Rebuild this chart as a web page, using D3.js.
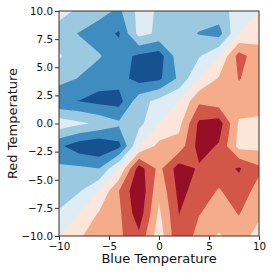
<!DOCTYPE html>
<html>
<head>
<meta charset="utf-8">
<script src="https://cdn.jsdelivr.net/npm/d3@7"></script>
<style>
  body { margin: 0; background: #fff; }
  svg { display: block; font-family: "DejaVu Sans", sans-serif; }
</style>
</head>
<body>
<svg id="chart" width="273" height="273"></svg>
<script>
// Grid of samples (x left to right, y top to bottom)
const xGrid = [-10, -8, -6, -4, -2, 0, 2, 4, 6, 8, 10];
const yGrid = [10, 8, 6, 4, 2, 0, -2, -4, -6, -8, -10];

// Values, one row per y (top row is y = 10)
const temps = [
  [-0.6, -1.2, -1.6, -2.2, -0.7, -1.1, -1.4, -1.5, -1.4, -0.6, 0],
  [-1.5, -2.05, -2.6, -3.1, -0.65, -1.2, -1.6, -2.05, -2.4, 0, 0.6],
  [-0.9, -1.5, -1.9, -2.6, -3.2, -3.5, -1.4, -1.1, 0, 2.4, 1.4],
  [-1.6, -2.05, -2.6, -2.6, -3.4, -3.2, -1.8, 0, 1.1, 2.05, 1.5],
  [-2.9, -3.02, -3.3, -3.4, -1.4, -0.7, 0, 1.8, 1.4, 1.6, 1.4],
  [-0.4, -0.8, -1.2, -1.8, -1.3, 0, 0.7, 3.2, 3.5, 0.85, 0.8],
  [-2.8, -3.6, -3.9, -3.3, 0, 1.3, 1.4, 3.4, 2.9, 0.65, 0.7],
  [-1.8, -1.8, -2.0, 0, 3.5, 1.7, 3.5, 2.88, 2.6, 3.1, 2.2],
  [-1.4, -1.1, 0, 2.0, 3.9, 1.2, 3.3, 2.6, 1.9, 2.6, 1.6],
  [-0.9, 0, 1.1, 1.8, 3.6, 0.8, 3.02, 2.05, 1.5, 2.05, 1.2],
  [0, 0.9, 1.4, 1.8, 2.8, 0.4, 2.9, 1.6, 0.9, 1.5, 0.6]
];

// Contour levels and the colour of each band between them
const levels = [-4, -3, -2, -1, 0, 1, 2, 3, 4];
const bandColors = ["#165290", "#3f8dc0", "#9ac9e0", "#dfecf3",
                    "#fbe6d9", "#f5ac8b", "#d25749", "#960f26"];

const xTicks = [-10, -5, 0, 5, 10];
const yTicks = [-10, -7.5, -5, -2.5, 0, 2.5, 5, 7.5, 10];

const margin = { top: 11, right: 14, bottom: 37, left: 59 };
const width = 200;
const height = 225;

const svg = d3.select("#chart");
const g = svg.append("g")
    .attr("transform", `translate(${margin.left},${margin.top})`);

const x = d3.scaleLinear().domain([-10, 10]).range([0, width]);
const y = d3.scaleLinear().domain([-10, 10]).range([height, 0]);

// d3.contours puts sample i at i + 0.5 in grid units
const nx = xGrid.length, ny = yGrid.length;
const gx = d3.scaleLinear().domain([0.5, nx - 0.5]).range([xGrid[0], xGrid[nx - 1]]);
const gy = d3.scaleLinear().domain([0.5, ny - 0.5]).range([yGrid[0], yGrid[ny - 1]]);
const path = d3.geoPath(d3.geoTransform({
    point(px, py) { this.stream.point(x(gx(px)), y(gy(py))); }
}));

const values = temps.flat();
const negValues = values.map(v => -v);
const contours = d3.contours().size([nx, ny]);

g.append("clipPath").attr("id", "plot-clip")
    .append("rect").attr("width", width).attr("height", height);

const plot = g.append("g").attr("clip-path", "url(#plot-clip)");

// band just under zero fills the background
plot.append("rect")
    .attr("width", width).attr("height", height)
    .attr("fill", bandColors[3]);

// red side: value >= level
for (let k = 4; k < 8; k++) {
    plot.append("path")
        .attr("d", path(contours.contour(values, levels[k])))
        .attr("fill", bandColors[k]);
}
// blue side: value <= level, done on the negated grid
for (let k = 2; k >= 0; k--) {
    plot.append("path")
        .attr("d", path(contours.contour(negValues, -levels[k + 1])))
        .attr("fill", bandColors[k]);
}

// axes
const xAxis = g.append("g")
    .attr("transform", `translate(0,${height})`)
    .call(d3.axisBottom(x).tickValues(xTicks).tickFormat(d3.format("d"))
        .tickSize(4).tickSizeOuter(0).tickPadding(3));
const yAxis = g.append("g")
    .call(d3.axisLeft(y).tickValues(yTicks).tickFormat(d3.format(".1f"))
        .tickSize(4).tickSizeOuter(0).tickPadding(2));

[xAxis, yAxis].forEach(ax => {
    ax.select(".domain").remove();
    ax.attr("font-family", "DejaVu Sans").attr("font-size", 10.3);
    ax.selectAll(".tick line").attr("stroke", "#333");
    ax.selectAll(".tick text").attr("fill", "#111");
});

// frame
g.append("rect")
    .attr("width", width).attr("height", height)
    .attr("fill", "none").attr("stroke", "#333").attr("stroke-width", 1);

// axis labels
g.append("text")
    .attr("x", width / 2).attr("y", height + 27)
    .attr("text-anchor", "middle")
    .attr("font-size", 13).attr("fill", "#111")
    .text("Blue Temperature");

g.append("text")
    .attr("transform", `translate(${16.5 - margin.left},${height / 2}) rotate(-90)`)
    .attr("text-anchor", "middle")
    .attr("font-size", 13).attr("fill", "#111")
    .text("Red Temperature");
</script>
</body>
</html>
